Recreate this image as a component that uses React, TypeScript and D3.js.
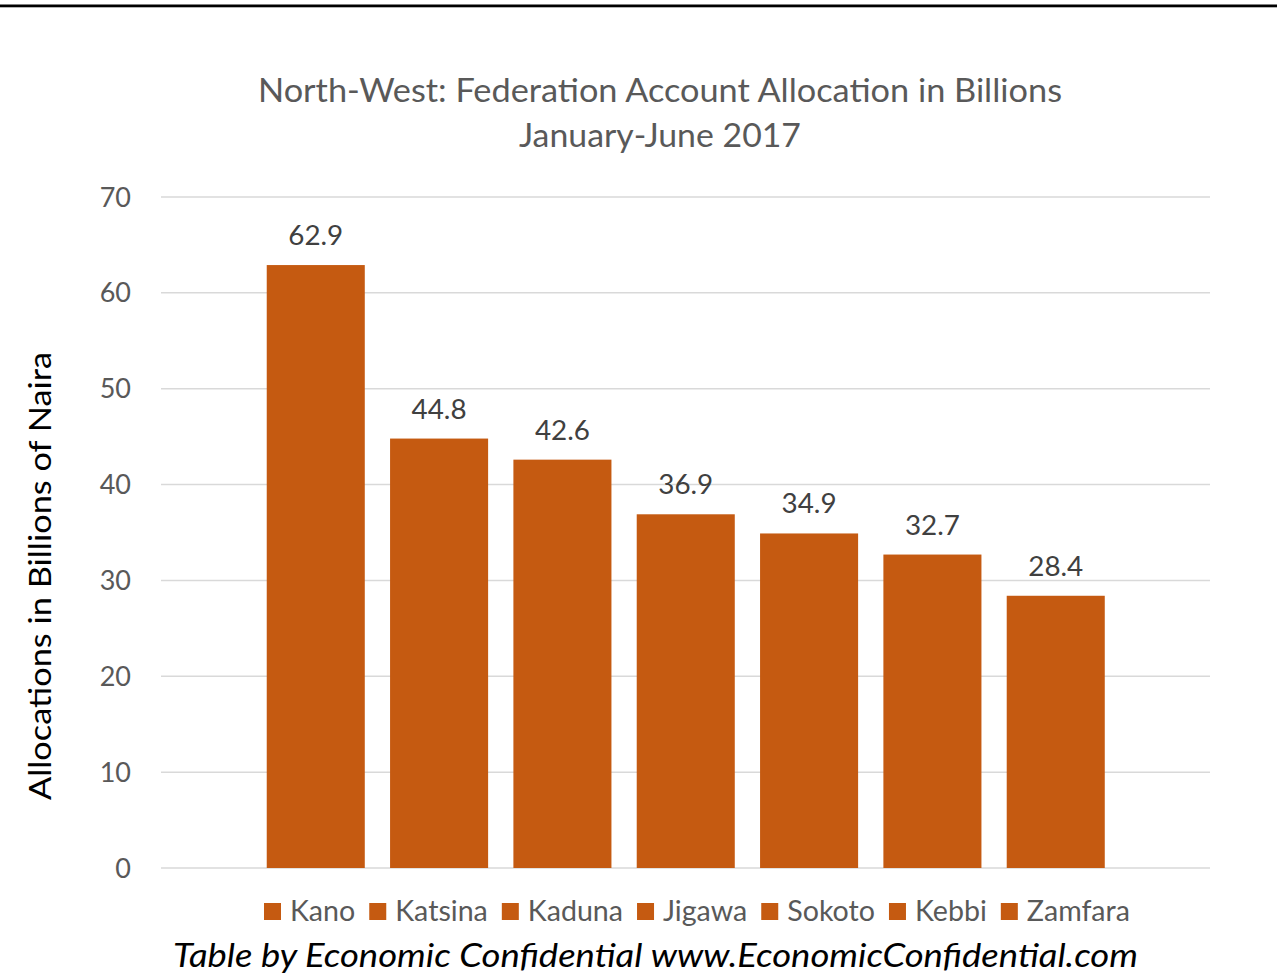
import React from "react";
import * as d3 from "d3";

const categories = ["Kano", "Katsina", "Kaduna", "Jigawa", "Sokoto", "Kebbi", "Zamfara"];
const values = [62.9, 44.8, 42.6, 36.9, 34.9, 32.7, 28.4];
const yTicks = [0, 10, 20, 30, 40, 50, 60, 70];
const titleLines = ["North-West: Federation Account Allocation in Billions", "January-June 2017"];
const yLabel = "Allocations in Billions of Naira";
const footer = "Table by Economic Confidential www.EconomicConfidential.com";

const W = 1277, H = 973;
const FONT = "Lato, 'Open Sans', sans-serif";
const BAR = "#C55A11";

function measure(text: string, size: number): number {
  const c = document.createElement("canvas").getContext("2d");
  if (!c) return text.length * size * 0.5;
  c.font = `${size}px Lato, 'Open Sans', sans-serif`;
  return c.measureText(text).width;
}

export default function App() {
  const y = d3.scaleLinear().domain([0, 70]).range([868, 197]);
  const x = d3.scaleBand().domain(categories).range([254.4, 1117.1]).paddingInner(0.205).paddingOuter(0.1);

  // legend layout: spans 264..1130 in the reference
  const sq = 17, gapIn = 9, gapOut = 14;
  const legStart = 264, legEnd = 1130;
  const natural = categories.map((c) => measure(c, 28));
  const fixed = categories.length * (sq + gapIn) + (categories.length - 1) * gapOut;
  const k = (legEnd - legStart - fixed) / d3.sum(natural);
  const textW = natural.map((w) => w * k);
  let lx = legStart;
  const legendPos = textW.map((w) => { const p = lx; lx += sq + gapIn + w + gapOut; return p; });

  return (
    <svg width={W} height={H} style={{ position: "absolute", left: 0, top: 0, background: "#fff" }}>
      <rect x={0} y={0} width={W} height={H} fill="#fff" />
      <rect x={0} y={4.5} width={W} height={2.8} fill="#000" />
      <text x={660} y={102} textAnchor="middle" fontFamily={FONT} fontSize={32} fill="#595959" textLength={804} lengthAdjust="spacingAndGlyphs">{titleLines[0]}</text>
      <text x={660} y={147} textAnchor="middle" fontFamily={FONT} fontSize={32} fill="#595959" textLength={282} lengthAdjust="spacingAndGlyphs">{titleLines[1]}</text>
      {yTicks.map((t) => (
        <g key={t}>
          <line x1={161} x2={1210} y1={y(t)} y2={y(t)} stroke="#d9d9d9" strokeWidth={1.5} />
          <text x={131} y={y(t) + 9.5} textAnchor="end" fontFamily={FONT} fontSize={27} fill="#595959">{t}</text>
        </g>
      ))}
      {categories.map((c, i) => (
        <g key={c}>
          <rect x={x(c)} y={y(values[i])} width={x.bandwidth()} height={y(0) - y(values[i])} fill={BAR} />
          <text x={(x(c) as number) + x.bandwidth() / 2} y={y(values[i]) - 20} textAnchor="middle" fontFamily={FONT} fontSize={27} fill="#404040" textLength={55} lengthAdjust="spacingAndGlyphs">{values[i].toFixed(1)}</text>
        </g>
      ))}
      <text transform={`translate(51,576) rotate(-90)`} textAnchor="middle" fontFamily={FONT} fontSize={31} fill="#000" textLength={448} lengthAdjust="spacingAndGlyphs">{yLabel}</text>
      {categories.map((c, i) => (
        <g key={"l" + c}>
          <rect x={legendPos[i]} y={903} width={sq} height={sq} fill={BAR} />
          <text x={legendPos[i] + sq + gapIn} y={921} fontFamily={FONT} fontSize={28} fill="#595959" textLength={textW[i]} lengthAdjust="spacingAndGlyphs">{c}</text>
        </g>
      ))}
      <text x={655.5} y={967} textAnchor="middle" fontFamily={FONT} fontSize={32} fontStyle="italic" fill="#000" textLength={965} lengthAdjust="spacingAndGlyphs">{footer}</text>
    </svg>
  );
}
